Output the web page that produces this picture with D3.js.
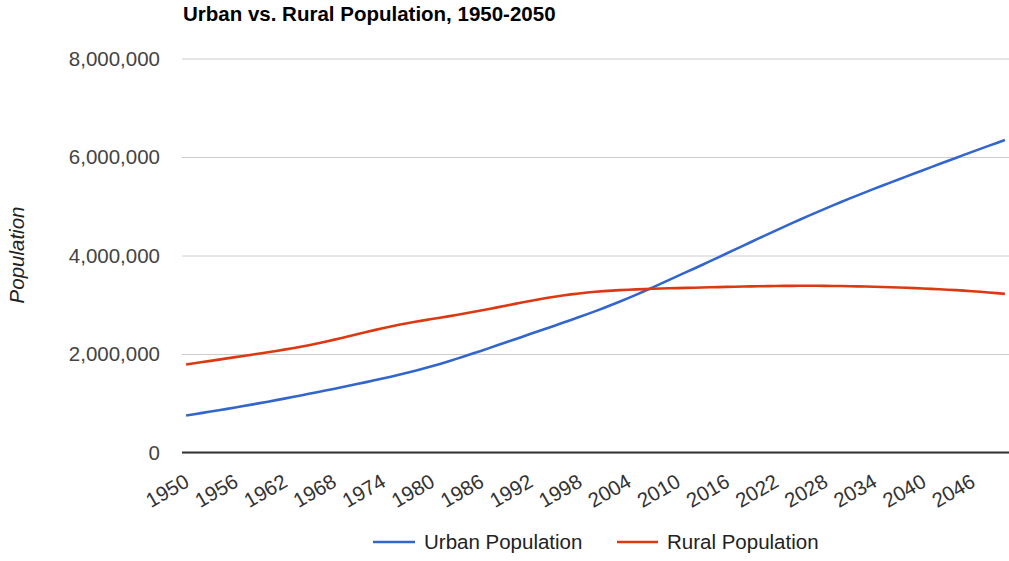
<!DOCTYPE html>
<html>
<head>
<meta charset="utf-8">
<script src="https://cdn.jsdelivr.net/npm/d3@7"></script>
<style>
  html, body { margin: 0; padding: 0; background: #fff; }
  svg { display: block; font-family: Arial, "Liberation Sans", sans-serif; }
</style>
</head>
<body>
<svg id="chart" width="1009" height="561"></svg>
<script>
// Years 1950–2050, one category per year
const years = d3.range(1950, 2051);

// World urban population, 1950–2050
const urbanPopulation = [
  752000, 778000, 804000, 831000, 858000, 886000, 914000, 943000, 972000, 1002000,
  1032000, 1063000, 1094000, 1126000, 1158000, 1191000, 1224000, 1257000, 1291000, 1325000,
  1359000, 1394000, 1429000, 1465000, 1502000, 1540000, 1579000, 1619000, 1661000, 1705000,
  1751000, 1799000, 1849000, 1901000, 1954000, 2008000, 2063000, 2119000, 2176000, 2233000,
  2290000, 2347000, 2404000, 2461000, 2518000, 2575000, 2633000, 2691000, 2750000, 2810000,
  2871000, 2934000, 2999000, 3066000, 3135000, 3206000, 3279000, 3353000, 3428000, 3504000,
  3580000, 3656000, 3732000, 3808000, 3885000, 3962000, 4040000, 4118000, 4196000, 4274000,
  4352000, 4429000, 4506000, 4582000, 4657000, 4731000, 4804000, 4876000, 4947000, 5017000,
  5086000, 5154000, 5221000, 5287000, 5352000, 5416000, 5480000, 5543000, 5606000, 5669000,
  5732000, 5795000, 5857000, 5919000, 5981000, 6043000, 6104000, 6165000, 6226000, 6286000,
  6346000
];

// World rural population, 1950–2050
const ruralPopulation = [
  1787000, 1811000, 1836000, 1861000, 1886000, 1911000, 1936000, 1961000, 1986000, 2011000,
  2036000, 2062000, 2089000, 2117000, 2147000, 2179000, 2213000, 2249000, 2287000, 2326000,
  2366000, 2406000, 2446000, 2485000, 2523000, 2559000, 2593000, 2625000, 2655000, 2683000,
  2710000, 2737000, 2764000, 2792000, 2821000, 2851000, 2882000, 2914000, 2947000, 2980000,
  3013000, 3045000, 3076000, 3107000, 3136000, 3163000, 3188000, 3210000, 3230000, 3248000,
  3263000, 3276000, 3287000, 3297000, 3305000, 3312000, 3318000, 3324000, 3329000, 3334000,
  3338000, 3342000, 3346000, 3350000, 3354000, 3358000, 3362000, 3366000, 3370000, 3373000,
  3376000, 3379000, 3381000, 3383000, 3384000, 3385000, 3385000, 3385000, 3384000, 3382000,
  3380000, 3377000, 3374000, 3370000, 3366000, 3361000, 3356000, 3350000, 3344000, 3337000,
  3330000, 3322000, 3314000, 3305000, 3296000, 3286000, 3275000, 3263000, 3250000, 3236000,
  3221000
];

// Axis ticks
const yTicks = [0, 2000000, 4000000, 6000000, 8000000];
const xTickLabels = ["1950", "1956", "1962", "1968", "1974", "1980", "1986", "1992", "1998",
                     "2004", "2010", "2016", "2022", "2028", "2034", "2040", "2046"];

const seriesNames = ["Urban Population", "Rural Population"];
const seriesColors = ["#3366cc", "#dc3912"];

const fontSize = 20.5;
const svg = d3.select("#chart");
const plot = { left: 182, right: 1009, top: 58.5, bottom: 452.5 };

const x = d3.scalePoint()
  .domain(years)
  .range([plot.left, plot.right])
  .padding(0.5);

const y = d3.scaleLinear()
  .domain([0, 8000000])
  .range([plot.bottom, plot.top]);

// Title
svg.append("text")
  .attr("x", 183)
  .attr("y", 21)
  .attr("font-size", fontSize)
  .attr("font-weight", "bold")
  .attr("fill", "#000")
  .text("Urban vs. Rural Population, 1950-2050");

// Horizontal gridlines and value labels
const yAxis = d3.axisLeft(y)
  .tickValues(yTicks)
  .tickFormat(d3.format(","))
  .tickSize(-(plot.right - plot.left))
  .tickPadding(22);

const gy = svg.append("g")
  .attr("transform", `translate(${plot.left},0)`)
  .call(yAxis);
gy.select(".domain").remove();
gy.selectAll(".tick line")
  .attr("stroke", "#cccccc")
  .attr("stroke-width", 1);
gy.selectAll(".tick text")
  .attr("font-size", fontSize)
  .attr("font-family", "Arial, 'Liberation Sans', sans-serif")
  .attr("fill", "#444");

// Baseline at zero
svg.append("line")
  .attr("x1", plot.left)
  .attr("x2", plot.right)
  .attr("y1", y(0))
  .attr("y2", y(0))
  .attr("stroke", "#333")
  .attr("stroke-width", 2);

// Y axis title
svg.append("text")
  .attr("transform", `translate(24,255) rotate(-90)`)
  .attr("text-anchor", "middle")
  .attr("font-size", fontSize)
  .attr("font-style", "italic")
  .attr("fill", "#222")
  .text("Population");

// X axis labels (rotated)
const xAxis = d3.axisBottom(x)
  .tickValues(xTickLabels.map(Number))
  .tickSize(0)
  .tickFormat(d => String(d));

const gx = svg.append("g")
  .attr("transform", `translate(0,${plot.bottom})`)
  .call(xAxis);
gx.select(".domain").remove();
gx.selectAll(".tick text")
  .attr("font-size", fontSize)
  .attr("font-family", "Arial, 'Liberation Sans', sans-serif")
  .attr("fill", "#333")
  .attr("text-anchor", "end")
  .attr("dy", null)
  .attr("y", 0)
  .attr("transform", "translate(4,33) rotate(-30)");

// Lines
const line = d3.line()
  .x((d, i) => x(years[i]))
  .y(d => y(d));

[urbanPopulation, ruralPopulation].forEach((values, k) => {
  svg.append("path")
    .datum(values)
    .attr("fill", "none")
    .attr("stroke", seriesColors[k])
    .attr("stroke-width", 2.6)
    .attr("stroke-linejoin", "round")
    .attr("d", line);
});

// Legend
const legendItems = [
  { x1: 373, x2: 415, tx: 424 },
  { x1: 617, x2: 658, tx: 667 }
];
const legend = svg.append("g");
legendItems.forEach((item, k) => {
  legend.append("line")
    .attr("x1", item.x1).attr("x2", item.x2)
    .attr("y1", 542).attr("y2", 542)
    .attr("stroke", seriesColors[k])
    .attr("stroke-width", 2.6);
  legend.append("text")
    .attr("x", item.tx)
    .attr("y", 549)
    .attr("font-size", fontSize)
    .attr("fill", "#222")
    .text(seriesNames[k]);
});
</script>
</body>
</html>
